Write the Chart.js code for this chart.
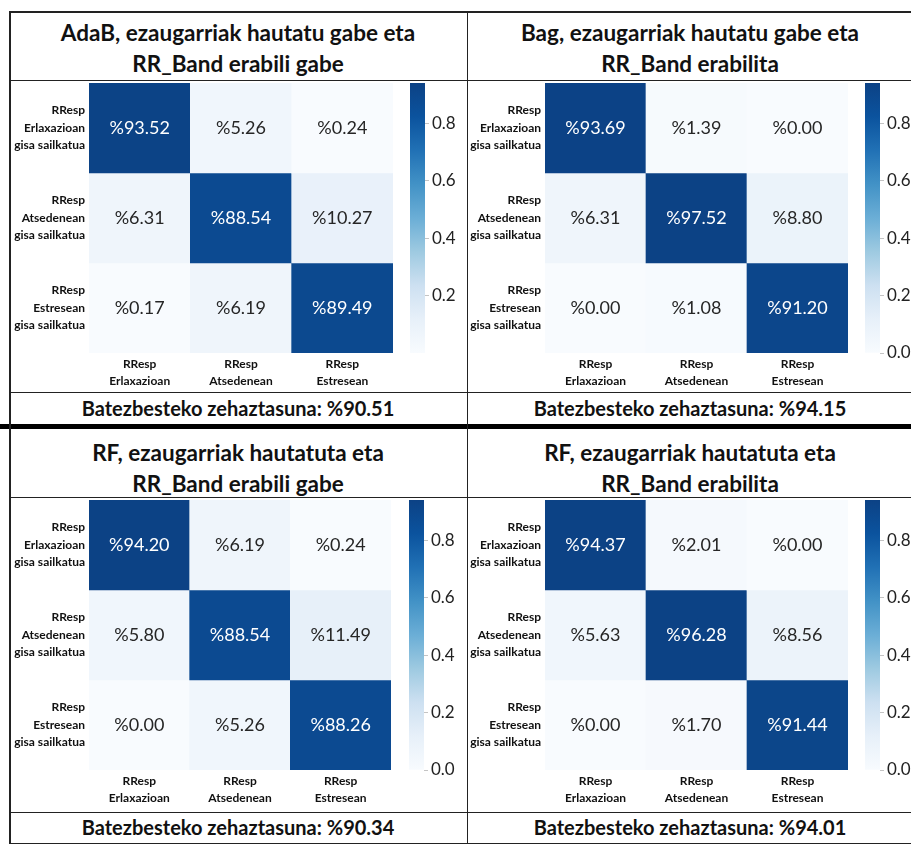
<!DOCTYPE html>
<html>
<head>
<meta charset="utf-8">
<script src="https://cdn.jsdelivr.net/npm/chart.js@4.4.1/dist/chart.umd.min.js"></script>
<style>
  html, body { margin: 0; padding: 0; background: #fff; }
  body { width: 911px; height: 844px; overflow: hidden; position: relative; font-family: Lato, "Open Sans", sans-serif; }
  .hl { position: absolute; left: 9px; width: 902px; height: 1.5px; background: #222; }
  .vl { position: absolute; top: 11px; height: 833px; width: 1.5px; background: #222; }
  .title { position: absolute; text-align: center; font-weight: bold; font-size: 22.5px; line-height: 31px; color: #111; white-space: nowrap; }
  .foot { position: absolute; text-align: center; font-weight: bold; font-size: 20px; line-height: 32px; color: #111; white-space: nowrap; }
  canvas { position: absolute; }
</style>
</head>
<body>
<script>
// ---- data ----
const predictedLabels = [
  ['RResp', 'Erlaxazioan', 'gisa sailkatua'],
  ['RResp', 'Atsedenean', 'gisa sailkatua'],
  ['RResp', 'Estresean', 'gisa sailkatua']
];
const actualLabels = [
  ['RResp', 'Erlaxazioan'],
  ['RResp', 'Atsedenean'],
  ['RResp', 'Estresean']
];
const panelTitles = [
  ['AdaB, ezaugarriak hautatu gabe eta', 'RR_Band erabili gabe'],
  ['Bag, ezaugarriak hautatu gabe eta', 'RR_Band erabilita'],
  ['RF, ezaugarriak hautatuta eta', 'RR_Band erabili gabe'],
  ['RF, ezaugarriak hautatuta eta', 'RR_Band erabilita']
];
// percentages, rows = predicted class, columns = actual class
const adabValues = [[93.52, 5.26, 0.24], [6.31, 88.54, 10.27], [0.17, 6.19, 89.49]];
const bagValues = [[93.69, 1.39, 0.00], [6.31, 97.52, 8.80], [0.00, 1.08, 91.20]];
const rfNoBandValues = [[94.20, 6.19, 0.24], [5.80, 88.54, 11.49], [0.00, 5.26, 88.26]];
const rfBandValues = [[94.37, 2.01, 0.00], [5.63, 96.28, 8.56], [0.00, 1.70, 91.44]];
const matrices = [adabValues, bagValues, rfNoBandValues, rfBandValues];
const accuracyText = 'Batezbesteko zehaztasuna: %';
const accuracies = ['90.51', '94.15', '90.34', '94.01'];
const colorbarTicks = [
  [0.2, 0.4, 0.6, 0.8],
  [0.0, 0.2, 0.4, 0.6, 0.8],
  [0.0, 0.2, 0.4, 0.6, 0.8],
  [0.0, 0.2, 0.4, 0.6, 0.8]
];
const COLORBAR_MAX = 0.94;

// ---- layout ----
const panels = [
  { titleLeft: 9,   titleW: 458, titleTop: 16.5,  plotTop: 80,  hmLeft: 9,   yAxisW: 80, hmRight: 393, cbLeft: 405, footTop: 392 },
  { titleLeft: 467, titleW: 446, titleTop: 16.5,  plotTop: 80,  hmLeft: 467, yAxisW: 78, hmRight: 848, cbLeft: 860, footTop: 392 },
  { titleLeft: 9,   titleW: 458, titleTop: 436.5, plotTop: 497, hmLeft: 9,   yAxisW: 80, hmRight: 391, cbLeft: 404, footTop: 811 },
  { titleLeft: 467, titleW: 446, titleTop: 436.5, plotTop: 497, hmLeft: 467, yAxisW: 78, hmRight: 848, cbLeft: 860, footTop: 811 }
];
const PLOT_H = 312;
const PAD_TOP = 3;
const X_AXIS_H = 39;

// table frame
[11, 79.5, 391.5, 496.5, 811.5, 842.5].forEach(y => {
  const d = document.createElement('div'); d.className = 'hl'; d.style.top = y + 'px'; document.body.appendChild(d);
});
(() => {
  const d = document.createElement('div'); d.className = 'hl';
  d.style.top = '424px'; d.style.height = '5px'; d.style.background = '#000'; d.style.left = '0px'; d.style.width = '911px';
  document.body.appendChild(d);
})();
[9, 466.5].forEach(x => {
  const d = document.createElement('div'); d.className = 'vl'; d.style.left = x + 'px'; document.body.appendChild(d);
});

// Blues-style colour map
const BLUES = ['#f8fbfe', '#e7f0f9', '#cde0f1', '#9ecae1', '#6baed6', '#4292c6', '#2171b5', '#0b539e', '#0c4285'];
function hexRgb(h) { return [1, 3, 5].map(i => parseInt(h.substr(i, 2), 16)); }
function blues(t) {
  t = Math.max(0, Math.min(1, t));
  const n = BLUES.length - 1, p = t * n;
  const i = Math.min(Math.floor(p), n - 1), f = p - i;
  const a = hexRgb(BLUES[i]), b = hexRgb(BLUES[i + 1]);
  const c = a.map((v, k) => Math.round(v + (b[k] - v) * f));
  return `rgb(${c[0]},${c[1]},${c[2]})`;
}

Chart.defaults.font.family = 'Lato, "Open Sans", sans-serif';
Chart.defaults.color = '#111';

// keep the plot area exactly where the layout padding puts it
function noEdgePadding(s) {
  s.paddingTop = 0; s.paddingBottom = 0; s.paddingLeft = 0; s.paddingRight = 0;
}

// percentage text in the middle of each cell
const cellText = {
  id: 'cellText',
  afterDatasetsDraw(chart) {
    const ctx = chart.ctx;
    chart.data.datasets.forEach((ds, di) => {
      chart.getDatasetMeta(di).data.forEach((bar, ci) => {
        const v = ds.values[ci];
        const p = bar.getProps(['x', 'y', 'base'], true);
        ctx.save();
        ctx.fillStyle = (v / 100) / COLORBAR_MAX > 0.55 ? '#ffffff' : '#262626';
        ctx.font = '18px Lato, "Open Sans", sans-serif';
        ctx.textAlign = 'center';
        ctx.textBaseline = 'middle';
        ctx.fillText('%' + v.toFixed(2), p.x, (p.y + p.base) / 2);
        ctx.restore();
      });
    });
  }
};

function makeCanvas(left, top, w, h) {
  const c = document.createElement('canvas');
  c.width = w; c.height = h;
  c.style.left = left + 'px'; c.style.top = top + 'px';
  c.style.width = w + 'px'; c.style.height = h + 'px';
  document.body.appendChild(c);
  return c;
}

panels.forEach((L, pi) => {
  // title and footer
  const t = document.createElement('div');
  t.className = 'title';
  t.style.left = L.titleLeft + 'px'; t.style.width = L.titleW + 'px'; t.style.top = L.titleTop + 'px';
  t.innerHTML = panelTitles[pi].join('<br>');
  document.body.appendChild(t);
  const f = document.createElement('div');
  f.className = 'foot';
  f.style.left = L.titleLeft + 'px'; f.style.width = L.titleW + 'px'; f.style.top = L.footTop + 'px';
  f.textContent = accuracyText + accuracies[pi];
  document.body.appendChild(f);

  // confusion matrix heatmap: one stacked bar segment per cell
  const m = matrices[pi];
  const hmW = L.hmRight - L.hmLeft + 12;
  const hm = makeCanvas(L.hmLeft, L.plotTop, hmW, PLOT_H);
  new Chart(hm, {
    type: 'bar',
    data: {
      labels: actualLabels,
      datasets: m.map(row => ({
        data: row.map(() => 1),
        values: row,
        backgroundColor: row.map(v => blues((v / 100) / COLORBAR_MAX)),
        borderWidth: 0,
        barPercentage: 1,
        categoryPercentage: 1,
        stack: 'cm'
      }))
    },
    options: {
      responsive: false, animation: false, events: [],
      layout: { padding: { top: PAD_TOP, right: 12, left: 0, bottom: 0 } },
      plugins: { legend: { display: false }, tooltip: { enabled: false } },
      scales: {
        x: {
          stacked: true,
          grid: { display: false, drawTicks: false },
          border: { display: false },
          afterFit: s => { s.height = X_AXIS_H; noEdgePadding(s); },
          ticks: { padding: 2, font: { size: 12, weight: 'bold', lineHeight: 1.45 }, color: '#111', maxRotation: 0, autoSkip: false }
        },
        y: {
          type: 'linear', stacked: true, reverse: true, min: 0, max: 3,
          grid: { display: false, drawTicks: false },
          border: { display: false },
          afterFit: s => { s.width = L.yAxisW; noEdgePadding(s); },
          afterBuildTicks: s => { s.ticks = [0.5, 1.5, 2.5].map(v => ({ value: v })); },
          ticks: {
            padding: 4, autoSkip: false,
            font: { size: 12, weight: 'bold', lineHeight: 1.45 }, color: '#111',
            callback: (v, i) => predictedLabels[i]
          }
        }
      }
    },
    plugins: [cellText]
  });

  // colour bar
  const cb = makeCanvas(L.cbLeft, L.plotTop, 62, PLOT_H);
  new Chart(cb, {
    type: 'bar',
    data: {
      labels: [''],
      datasets: [{
        data: [COLORBAR_MAX],
        borderWidth: 0, barPercentage: 1, categoryPercentage: 1,
        backgroundColor: (ctx) => {
          const area = ctx.chart.chartArea;
          if (!area) return BLUES[4];
          const g = ctx.chart.ctx.createLinearGradient(0, area.bottom, 0, area.top);
          BLUES.forEach((c, i) => g.addColorStop(i / (BLUES.length - 1), c));
          return g;
        }
      }]
    },
    options: {
      responsive: false, animation: false, events: [],
      layout: { padding: { top: PAD_TOP, left: 5, right: 0, bottom: X_AXIS_H } },
      plugins: { legend: { display: false }, tooltip: { enabled: false } },
      scales: {
        x: { display: false },
        y: {
          position: 'right', min: 0, max: COLORBAR_MAX,
          afterFit: s => { s.width = 42; noEdgePadding(s); },
          afterBuildTicks: s => { s.ticks = colorbarTicks[pi].map(v => ({ value: v })); },
          grid: { drawOnChartArea: false, drawTicks: true, tickLength: 4, color: '#c4c4c4' },
          border: { display: false },
          ticks: { padding: 3, font: { size: 17 }, color: '#222', callback: v => v.toFixed(1) }
        }
      }
    }
  });
});
</script>
</body>
</html>
